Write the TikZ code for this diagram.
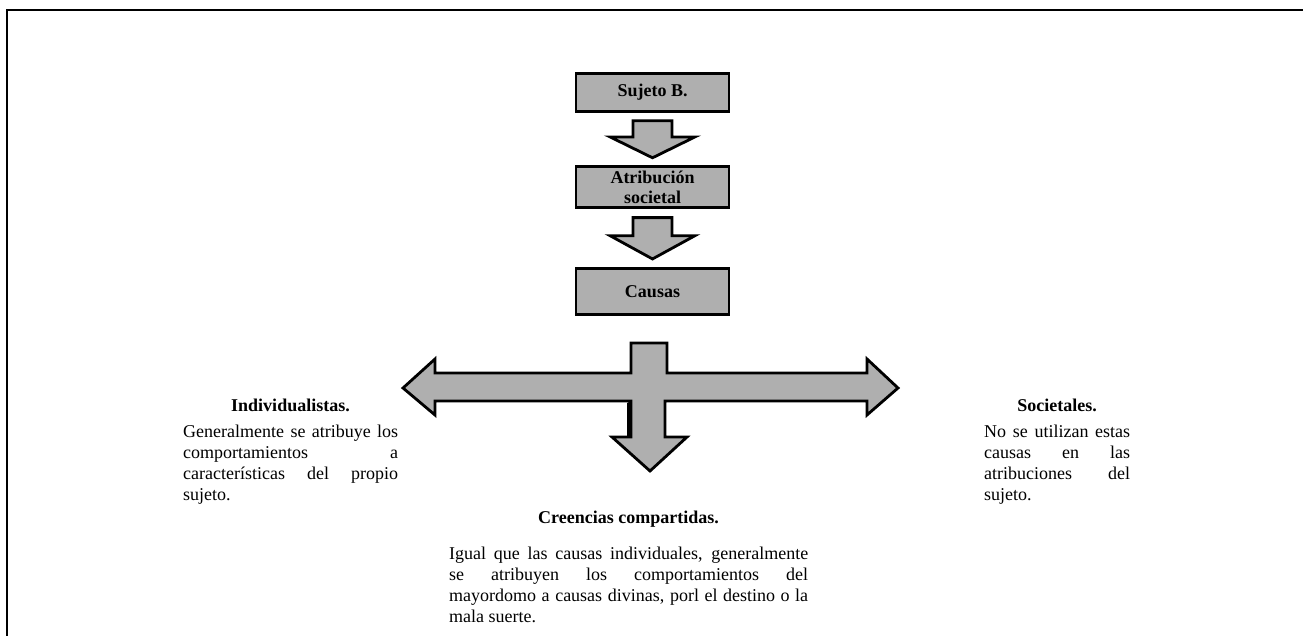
\documentclass[tikz,border=0pt]{standalone}
\usepackage{fontspec}
\setmainfont{Liberation Serif}
\usetikzlibrary{calc}
\definecolor{cajagris}{RGB}{175,175,175}
\tikzset{
  caja/.style={draw=black, line width=2.8pt, fill=cajagris, minimum width=153pt, inner sep=0pt,
    align=center, font=\fontsize{18}{20}\selectfont\bfseries},
  flecha/.style={draw=black, line width=2.8pt, fill=cajagris, line join=miter},
  titulo/.style={anchor=base, inner sep=0pt, font=\fontsize{18}{21}\selectfont\bfseries},
  parrafo/.style={anchor=north west, inner sep=0pt, align=justify, font=\fontsize{18}{21}\selectfont,
    execute at begin node={\tolerance=10000 \hbadness=10000 \hyphenpenalty=10000 \relax}}
}
% flecha gruesa hacia abajo entre dos cajas
\newcommand{\flechabaja}[2]{%
  \path ($(#1.south)!0.15!(#2.north)$) coordinate (fa)
        ($(#1.south)!0.46!(#2.north)$) coordinate (fb)
        ($(#1.south)!0.86!(#2.north)$) coordinate (fc);
  \draw[flecha] ($(fa)+(-19.5,0)$) -- ($(fa)+(19.5,0)$) -- ($(fb)+(19.5,0)$) -- ($(fb)+(42.5,0)$)
    -- (fc) -- ($(fb)+(-42.5,0)$) -- ($(fb)+(-19.5,0)$) -- cycle;}

\begin{document}
\begin{tikzpicture}[x=1pt, y=-1pt]
	%%%%% START %%%%%
	\useasboundingbox (0,0) rectangle (1303,636);
	\draw[line width=2pt] (7,636) -- (7,10) -- (1303,10);
	
	% cajas
	\node[caja, minimum height=38pt] (sujeto) at (652.5,92.5) {Sujeto B.};
	\node[caja, minimum height=41pt] (atrib) at (652.5,187) {Atribución\\societal};
	\node[caja, minimum height=46pt] (causas) at (652.5,291.5) {Causas};
	
	\flechabaja{sujeto}{atrib}
	\flechabaja{atrib}{causas}
	
	% flecha de tres puntas
	\fill[black] (627,403) -- (631,401) -- (631,437) -- (625,441) -- (627,441) -- cycle;
	\draw[flecha] (631,343) -- (667,343) -- (667,373) -- (867,373) -- (867,359) -- (898,388)
		-- (867,415) -- (867,401) -- (665,401) -- (665,437) -- (687,437) -- (650,471)
		-- (612,437) -- (631,437) -- (631,401) -- (435,401) -- (435,415) -- (403,388)
		-- (435,359) -- (435,373) -- (631,373) -- cycle;
	
	% textos
	\node[titulo] (indiv) at (290.5,411) {Individualistas.};
	\node[parrafo, text width=215pt] (indivtxt) at (183,425) {Generalmente se atribuye los\linebreak
		comportamientos a\linebreak características del propio\linebreak sujeto.};
	
	\node[titulo] (soc) at (1057,411) {Societales.};
	\node[parrafo, text width=146pt] (soctxt) at (984,425) {No se utilizan estas\linebreak
		causas en las\linebreak atribuciones del\linebreak sujeto.};
	
	\node[titulo] (creen) at (628.5,523) {Creencias compartidas.};
	\node[parrafo, text width=359pt] (creentxt) at (449,546.5) {Igual que las causas individuales, generalmente\linebreak
		se atribuyen los comportamientos del\linebreak mayordomo a causas divinas, porl el destino o la\linebreak
		mala suerte.};
	%%%%% END %%%%%
\end{tikzpicture}
\end{document}
